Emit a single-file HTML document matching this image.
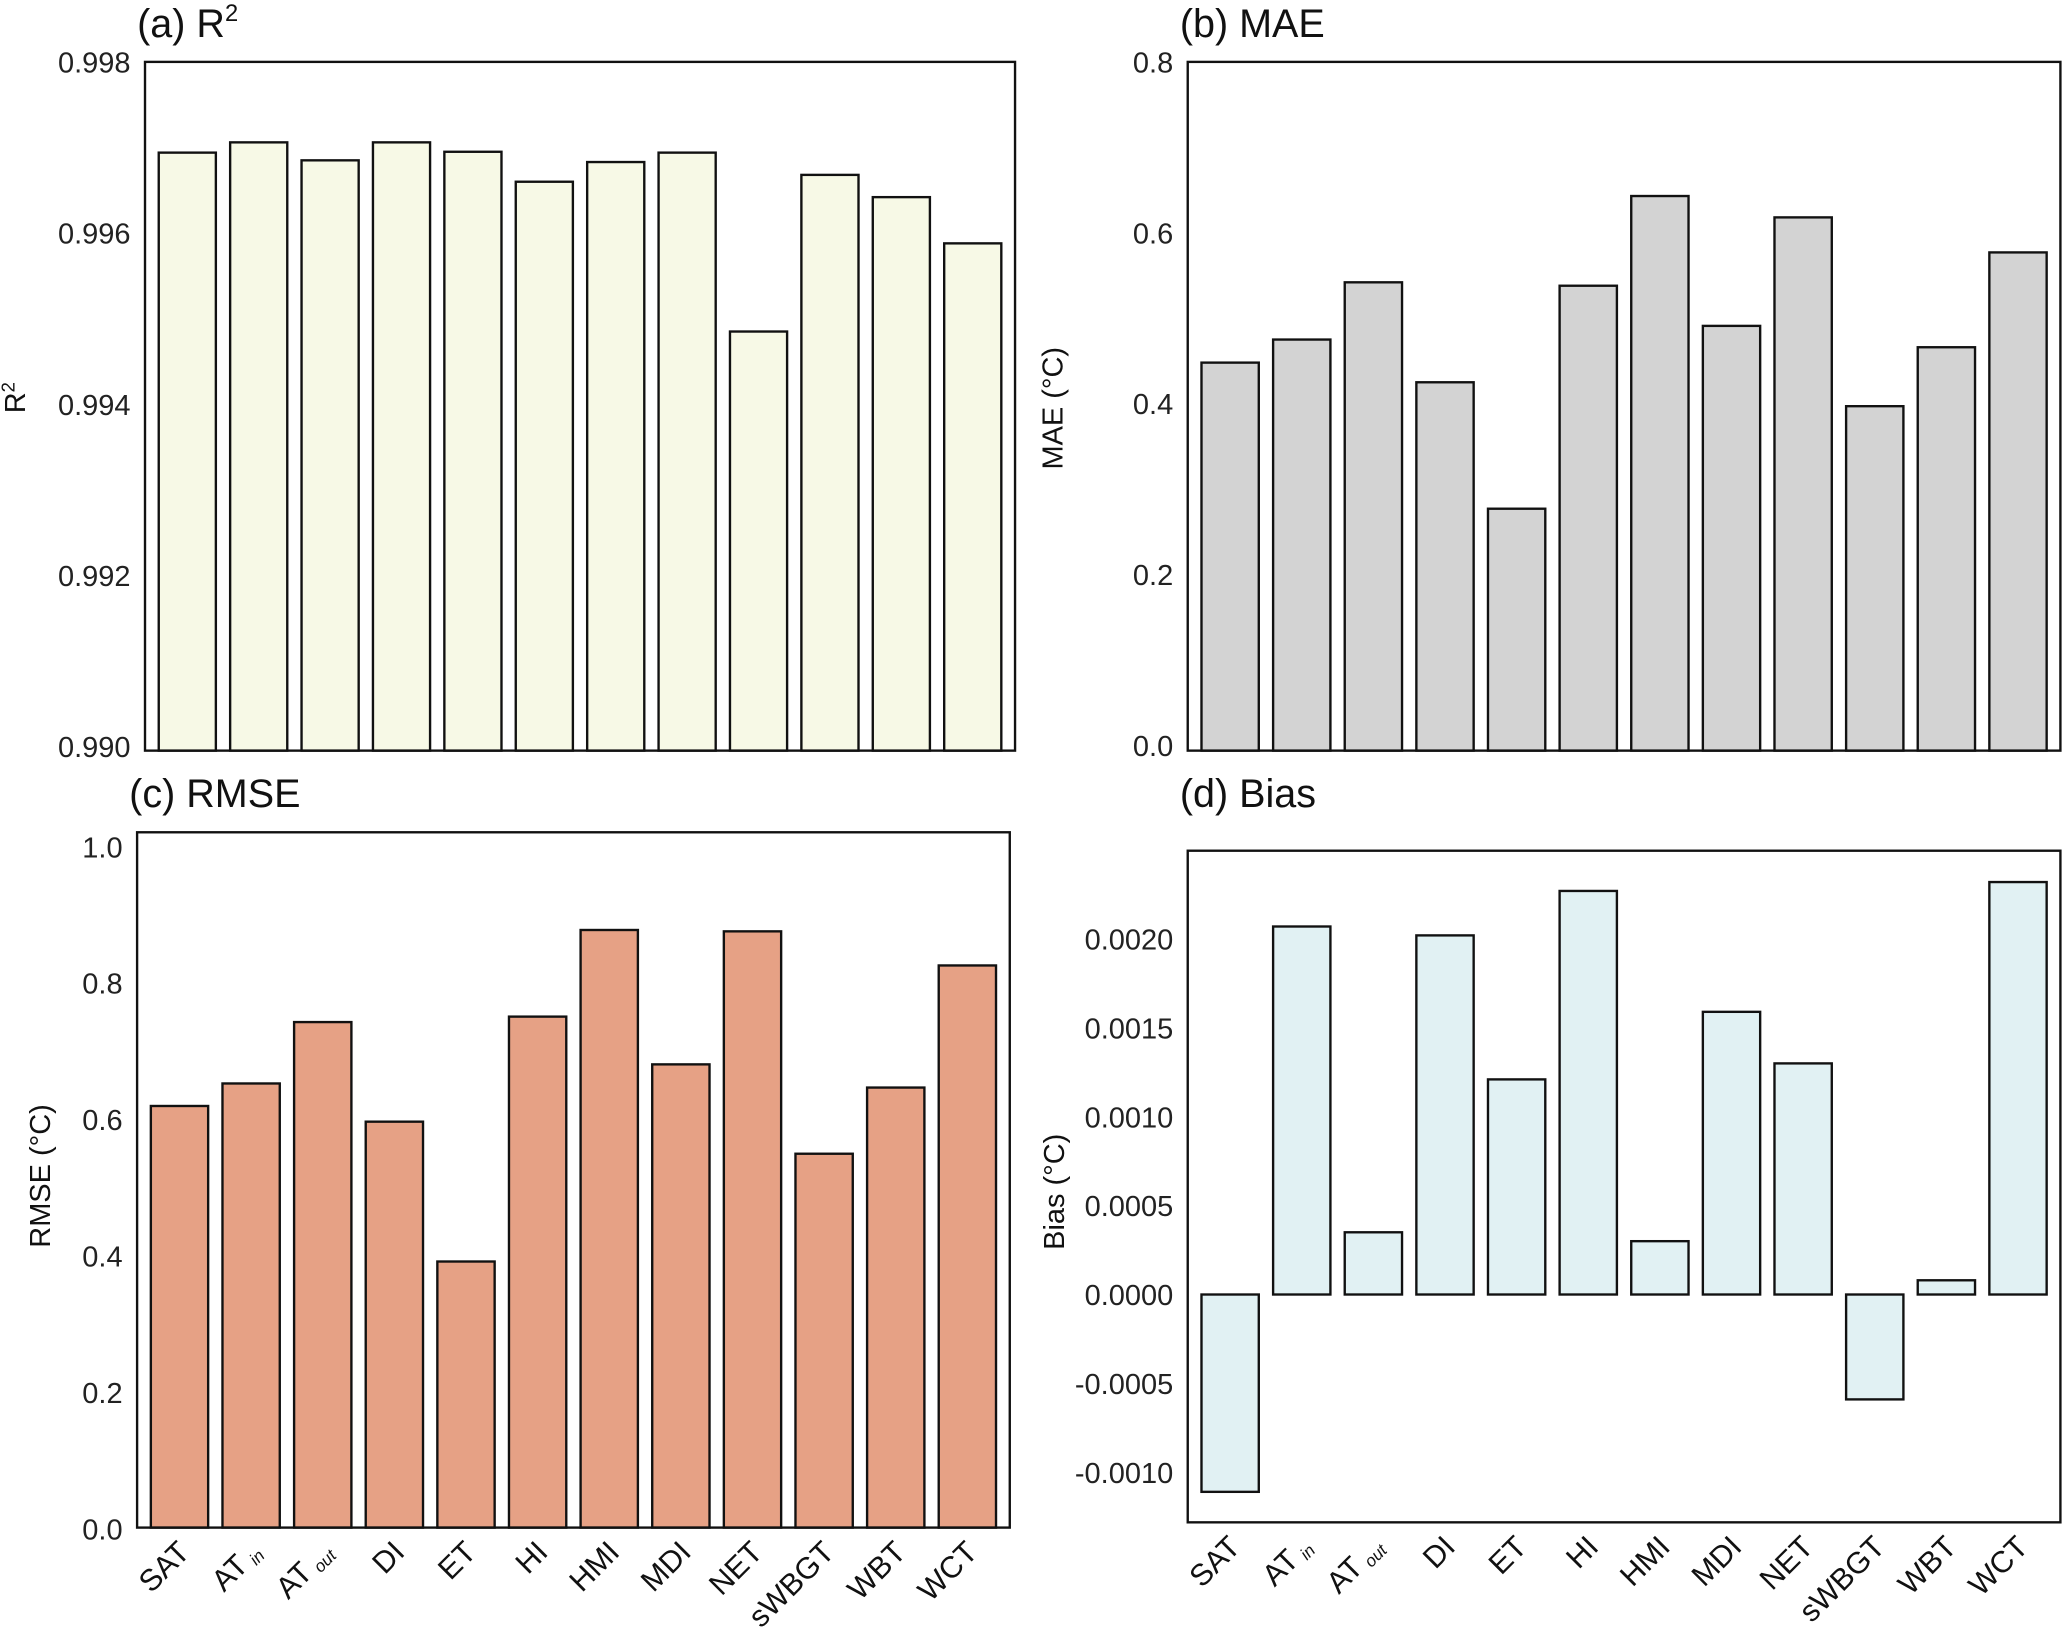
<!DOCTYPE html>
<html><head><meta charset="utf-8"><style>
html,body{margin:0;padding:0;background:#fff;}
svg{display:block;font-family:"Liberation Sans",Arial,sans-serif;}
</style></head><body>
<svg id="fig" width="2067" height="1629" viewBox="0 0 1568 1237" preserveAspectRatio="none" xmlns="http://www.w3.org/2000/svg"></svg>
<script>
const categories = ["SAT","AT_in","AT_out","DI","ET","HI","HMI","MDI","NET","sWBGT","WBT","WCT"];
const r2Values = [0.99694,0.99706,0.99685,0.99706,0.99695,0.9966,0.99683,0.99694,0.99485,0.99668,0.99642,0.99588];
const maeValues = [0.448,0.475,0.542,0.425,0.277,0.538,0.643,0.491,0.618,0.397,0.466,0.577];
const rmseValues = [0.62,0.653,0.743,0.597,0.392,0.751,0.878,0.681,0.876,0.55,0.647,0.826];
const biasValues = [-0.00111,0.00207,0.00035,0.00202,0.00121,0.00227,0.0003,0.00159,0.0013,-0.00059,0.00008,0.00232];
const r2Ticks = ["0.990","0.992","0.994","0.996","0.998"];
const maeTicks = ["0.0","0.2","0.4","0.6","0.8"];
const rmseTicks = ["0.0","0.2","0.4","0.6","0.8","1.0"];
const biasTicks = ["-0.0010","-0.0005","0.0000","0.0005","0.0010","0.0015","0.0020"];

const NS="http://www.w3.org/2000/svg";
const svg=document.getElementById('fig');
function mk(tag,attrs,parent){const e=document.createElementNS(NS,tag);for(const k in attrs)e.setAttribute(k,attrs[k]);(parent||svg).appendChild(e);return e;}

function panel(o){
  const g=mk('g',{});
  
  
  const y=v=>o.y1-(v-o.vmin)/(o.vmax-o.vmin)*(o.y1-o.y0At);
  const pad=5;
  const slot=(o.x1-o.x0-2*pad)/categories.length;
  const base=o.baseY!==undefined?o.baseY:y(o.base);
  o.values.forEach((v,i)=>{
    const cx=o.x0+pad+slot*(i+0.5), w=slot*0.8, yv=y(v);
    const r=mk('rect',{x:cx-w/2,y:Math.min(yv,base),width:w,height:Math.abs(base-yv),fill:o.color,stroke:'#111','stroke-width':1.8},g);
    
    
  });
  const f=mk('rect',{x:o.x0,y:o.fy0,width:o.x1-o.x0,height:o.fy1-o.fy0,fill:'none',stroke:'#111','stroke-width':1.8},g);
  
  
  o.ticks.forEach(t=>{
    const tx=mk('text',{x:o.x0-11,y:y(parseFloat(t))+8,'text-anchor':'end','font-size':22,fill:'#222'},g);
    tx.textContent=t;
    
    
  });
  const tt=mk('text',{x:o.x0-6,y:o.titleY,'font-size':30,fill:'#111'},g);
  tt.innerHTML=o.title;
  
  
  const yl=mk('text',{x:0,y:0,'font-size':22,fill:'#111','text-anchor':'middle',transform:`translate(${o.ylx},${o.yly}) rotate(-90)`},g);
  yl.innerHTML=o.ylabel;
  
  
  if(o.xlabels){
    categories.forEach((c,i)=>{
      const cx=o.x0+pad+slot*(i+0.5)+9;
      const ty=o.fy1+20;
      const t=mk('text',{x:0,y:0,'font-size':23,fill:'#111','text-anchor':'end',transform:`translate(${cx},${ty}) rotate(-45)`},g);
      if(c.indexOf('_')>0){const p=c.split('_');t.innerHTML=p[0]+'<tspan font-size="13" font-style="italic" dx="4" dy="3">'+p[1]+'</tspan>';}
      else t.textContent=c;
      
      
    });
  }
}
panel({name:'r2',values:r2Values,ticks:r2Ticks,vmin:0.990,vmax:0.998,base:0.990,baseY:570,x0:110,x1:770,fy0:47,fy1:570,y1:567,y0At:47,color:'#f7f9e6',title:'(a) R<tspan font-size="18" dy="-12">2</tspan>',titleY:28,ylabel:'R<tspan font-size="14" dy="-8">2</tspan>',ylx:19,yly:302,xlabels:false});
panel({name:'mae',values:maeValues,ticks:maeTicks,vmin:0,vmax:0.8,base:0,baseY:570,x0:901,x1:1563,fy0:47,fy1:570,y1:566,y0At:47,color:'#d3d3d3',title:'(b) MAE',titleY:28,ylabel:'MAE (°C)',ylx:806,yly:310,xlabels:false});
panel({name:'rmse',values:rmseValues,ticks:rmseTicks,vmin:0,vmax:1.0,base:0,baseY:1160,x0:104,x1:766,fy0:632,fy1:1160,y1:1161,y0At:643,color:'#e6a185',title:'(c) RMSE',titleY:613,ylabel:'RMSE (°C)',ylx:38,yly:893,xlabels:true});
panel({name:'bias',values:biasValues,ticks:biasTicks,vmin:0,vmax:0.002,base:0,x0:901,x1:1563,fy0:646,fy1:1156,y1:983,y0At:713,color:'#e1f1f3',title:'(d) Bias',titleY:613,ylabel:'Bias (°C)',ylx:807,yly:905,xlabels:true});
</script>
</body></html>
